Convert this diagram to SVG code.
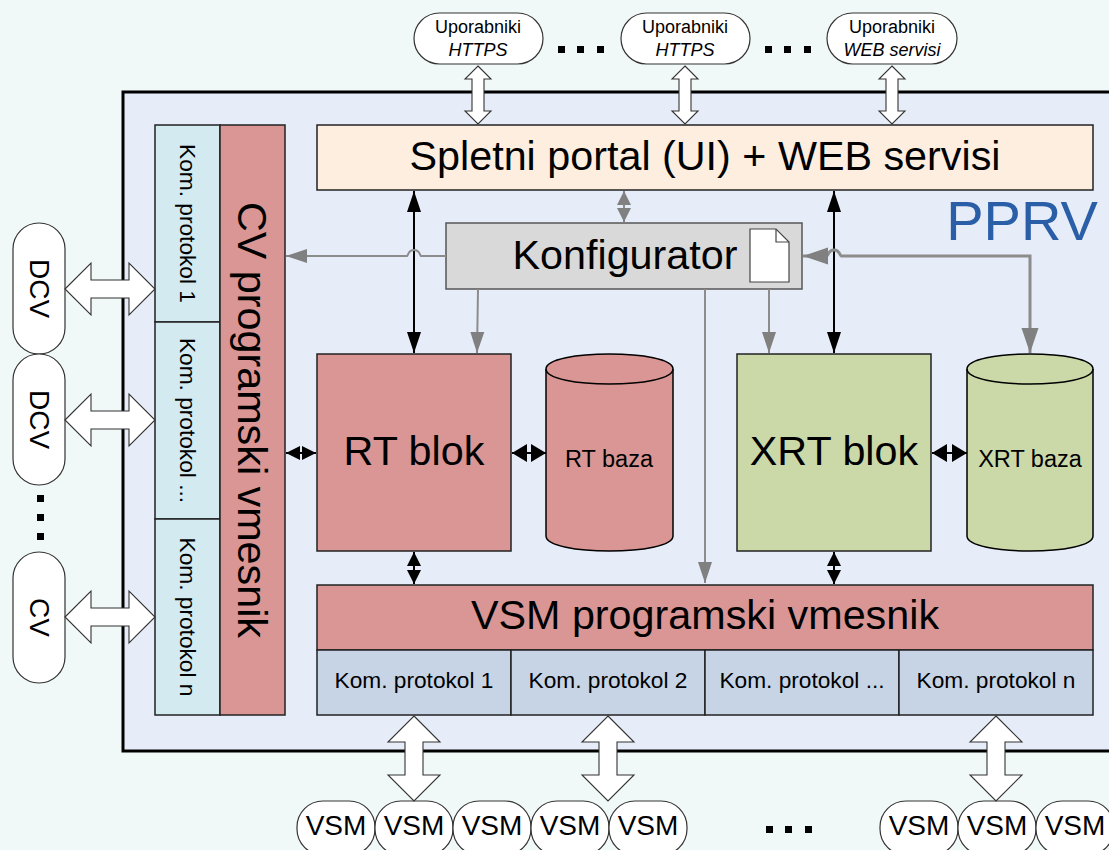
<svg xmlns="http://www.w3.org/2000/svg" width="1109" height="850" viewBox="0 0 1109 850">
<style>
text{font-family:"Liberation Sans",Arial,sans-serif;fill:#000;text-anchor:middle}
.b{stroke:#222;stroke-width:1.5}
.red{fill:#D99694}.grn{fill:#CBD9A8}.blu{fill:#C7D4E5}.cya{fill:#D2EAF0}
.pill{fill:#fff;stroke:#333;stroke-width:1.2}
.blk{fill:#fff;stroke:#333;stroke-width:1.1;stroke-linejoin:miter}
.k{fill:none;stroke:#000;stroke-width:2}
.g{fill:none;stroke:#8c8c8c;stroke-width:2}
.g2{fill:none;stroke:#8c8c8c;stroke-width:3}
.t40{font-size:41.3px}.t20{font-size:22.7px}.t16{font-size:18px}.t28{font-size:28px}.t23{font-size:23.5px}
</style>
<defs>
<marker id="ka" markerUnits="userSpaceOnUse" markerWidth="22" markerHeight="16" refX="21" refY="8" orient="auto-start-reverse"><path d="M0 1L21 8L0 15Z" fill="#000"/></marker>
<marker id="ks" markerUnits="userSpaceOnUse" markerWidth="15" markerHeight="16" refX="14" refY="8" orient="auto-start-reverse"><path d="M0 1L14 8L0 15Z" fill="#000"/></marker>
<marker id="kb" markerUnits="userSpaceOnUse" markerWidth="16" markerHeight="20" refX="15" refY="10" orient="auto-start-reverse"><path d="M0 1L15 10L0 19Z" fill="#000"/></marker>
<marker id="ga" markerUnits="userSpaceOnUse" markerWidth="22" markerHeight="16" refX="21" refY="8" orient="auto-start-reverse"><path d="M0 1L21 8L0 15Z" fill="#808080"/></marker>
<marker id="gs" markerUnits="userSpaceOnUse" markerWidth="15" markerHeight="16" refX="14" refY="8" orient="auto-start-reverse"><path d="M0 1L14 8L0 15Z" fill="#808080"/></marker>
<marker id="gb" markerUnits="userSpaceOnUse" markerWidth="26" markerHeight="18" refX="25" refY="9" orient="auto-start-reverse"><path d="M0 0.500L25 9L0 17.500Z" fill="#808080"/></marker>
<path id="av" class="blk" d="M0 0L13 13H6V45H13L0 58L-13 45H-6V13H-13Z"/>
<path id="ah" class="blk" d="M0 0L26 -26V-9H64V-26L90 0L64 26V9H26V26Z"/>
<path id="ab" class="blk" d="M0 0L26 26H9V59H26L0 85L-26 59H-9V26H-26Z"/>
</defs>
<rect id="background" width="1109" height="850" fill="#F1F9F8"/>
<rect id="PPRV-panel" x="123" y="92" width="990" height="659" fill="#E6EDF8" stroke="#000" stroke-width="3"/>
<text x="1022" y="240" font-size="56" style="fill:#2A5FA8">PPRV</text>

<g id="portal"><rect class="b" x="317" y="125" width="776" height="65" fill="#FDEEE0"/><text class="t40" x="705" y="170">Spletni portal (UI) + WEB servisi</text></g>
<g id="konfigurator"><rect x="446" y="223" width="356" height="66" fill="#D9D9D9" stroke="#555" stroke-width="1.5"/><text class="t40" x="625" y="269">Konfigurator</text>
<path d="M750 229H776L789 242V282H750Z" fill="#fff" stroke="#444" stroke-width="1.2"/><path d="M776 229V242H789" fill="none" stroke="#444" stroke-width="1.2"/></g>
<g id="rt-blok"><rect class="b red" x="317" y="354" width="194" height="197"/><text class="t40" x="414" y="465">RT blok</text></g>
<g id="xrt-blok"><rect class="b grn" x="737" y="354" width="194" height="197"/><text class="t40" x="834" y="465">XRT blok</text></g>
<g id="rt-baza"><path class="red" stroke="#000" stroke-width="1.5" d="M546 369C546 349 673 349 673 369V536C673 556 546 556 546 536Z"/><path d="M546 369C546 389 673 389 673 369" fill="none" stroke="#000" stroke-width="1.5"/><text class="t23" x="609" y="467">RT baza</text></g>
<g id="xrt-baza"><path class="grn" stroke="#000" stroke-width="1.5" d="M967 369C967 349 1093 349 1093 369V536C1093 556 967 556 967 536Z"/><path d="M967 369C967 389 1093 389 1093 369" fill="none" stroke="#000" stroke-width="1.5"/><text class="t23" x="1030" y="467">XRT baza</text></g>
<g id="vsm-vmesnik"><rect class="b red" x="317" y="585" width="776" height="65"/><text class="t40" x="705" y="629">VSM programski vmesnik</text></g>
<g id="vsm-kom-1"><rect class="b blu" x="317" y="650" width="194" height="65"/><text class="t20" x="414" y="688">Kom. protokol 1</text></g>
<g id="vsm-kom-2"><rect class="b blu" x="511" y="650" width="194" height="65"/><text class="t20" x="608" y="688">Kom. protokol 2</text></g>
<g id="vsm-kom-3"><rect class="b blu" x="705" y="650" width="194" height="65"/><text class="t20" x="802" y="688">Kom. protokol ...</text></g>
<g id="vsm-kom-n"><rect class="b blu" x="899" y="650" width="194" height="65"/><text class="t20" x="996" y="688">Kom. protokol n</text></g>
<g id="cv-kom-1"><rect class="b cya" x="155" y="125" width="65" height="197"/><text class="t20" transform="translate(180 223.500) rotate(90)">Kom. protokol 1</text></g>
<g id="cv-kom-2"><rect class="b cya" x="155" y="322" width="65" height="197"/><text class="t20" transform="translate(180 420.500) rotate(90)">Kom. protokol ...</text></g>
<g id="cv-kom-n"><rect class="b cya" x="155" y="519" width="65" height="196"/><text class="t20" transform="translate(180 617) rotate(90)">Kom. protokol n</text></g>
<g id="cv-vmesnik"><rect class="b red" x="220" y="125" width="65" height="590"/><text class="t40" transform="translate(238 420) rotate(90)">CV programski vmesnik</text></g>

<g id="user-1"><rect class="pill" x="414" y="13" width="129" height="51" rx="25.500"/><text class="t16" x="478" y="33">Uporabniki</text><text class="t16" x="478" y="56" font-style="italic">HTTPS</text></g>
<g id="user-2"><rect class="pill" x="621" y="13" width="129" height="51" rx="25.500"/><text class="t16" x="685" y="33">Uporabniki</text><text class="t16" x="685" y="56" font-style="italic">HTTPS</text></g>
<g id="user-3"><rect class="pill" x="827" y="13" width="130" height="51" rx="25.500"/><text class="t16" x="892" y="33">Uporabniki</text><text class="t16" x="892" y="56" font-style="italic">WEB servisi</text></g>
<g id="dcv-1"><rect class="pill" x="13" y="223" width="52" height="131" rx="26"/><text class="t28" transform="translate(30 288.500) rotate(90)">DCV</text></g>
<g id="dcv-2"><rect class="pill" x="13" y="354" width="52" height="131" rx="26"/><text class="t28" transform="translate(30 419.500) rotate(90)">DCV</text></g>
<g id="cv"><rect class="pill" x="13" y="552" width="52" height="131" rx="26"/><text class="t28" transform="translate(30 617.500) rotate(90)">CV</text></g>
<g id="vsm-1"><rect class="pill" x="297" y="801" width="78" height="54" rx="26"/><text class="t28" x="336" y="835">VSM</text></g>
<g id="vsm-2"><rect class="pill" x="375" y="801" width="78" height="54" rx="26"/><text class="t28" x="414" y="835">VSM</text></g>
<g id="vsm-3"><rect class="pill" x="453" y="801" width="78" height="54" rx="26"/><text class="t28" x="492" y="835">VSM</text></g>
<g id="vsm-4"><rect class="pill" x="531" y="801" width="78" height="54" rx="26"/><text class="t28" x="570" y="835">VSM</text></g>
<g id="vsm-5"><rect class="pill" x="609" y="801" width="78" height="54" rx="26"/><text class="t28" x="648" y="835">VSM</text></g>
<g id="vsm-6"><rect class="pill" x="880" y="801" width="78" height="54" rx="26"/><text class="t28" x="919" y="835">VSM</text></g>
<g id="vsm-7"><rect class="pill" x="958" y="801" width="78" height="54" rx="26"/><text class="t28" x="997" y="835">VSM</text></g>
<g id="vsm-8"><rect class="pill" x="1036" y="801" width="78" height="54" rx="26"/><text class="t28" x="1075" y="835">VSM</text></g>

<g id="dots" fill="#000">
<rect x="558" y="46" width="7" height="7"/><rect x="577" y="46" width="7" height="7"/><rect x="597" y="46" width="7" height="7"/>
<rect x="765" y="46" width="7" height="7"/><rect x="784" y="46" width="7" height="7"/><rect x="804" y="46" width="7" height="7"/>
<rect x="37" y="495" width="7" height="7"/><rect x="37" y="514" width="7" height="7"/><rect x="37" y="533" width="7" height="7"/>
<rect x="766" y="826" width="7" height="7"/><rect x="785" y="826" width="7" height="7"/><rect x="805" y="826" width="7" height="7"/>
</g>

<g id="connectors">
<use href="#av" x="478" y="66"/><use href="#av" x="685" y="66"/><use href="#av" x="892" y="66"/>
<use href="#ah" x="65" y="289"/><use href="#ah" x="65" y="420"/><use href="#ah" x="65" y="617"/>
<use href="#ab" x="414" y="716"/><use href="#ab" x="608" y="716"/><use href="#ab" x="996" y="716"/>
<path class="k" d="M414 191V353" marker-start="url(#ka)" marker-end="url(#ka)"/>
<path class="k" d="M834 191V353" marker-start="url(#ka)" marker-end="url(#ka)"/>
<path class="g" d="M446 256H421C420 256 420 250 414 250C408 250 408 256 407 256H286" marker-end="url(#ga)"/>
<path class="g" d="M478 289L477 353" marker-end="url(#ga)"/>
<path class="g" d="M769 289V353" marker-end="url(#ga)"/>
<path class="g" d="M705 289V583" marker-end="url(#ga)"/>
<path class="g" d="M624 191V222" marker-start="url(#gs)" marker-end="url(#gs)"/>
<path class="g2" d="M803 256H827C828 256 828 250 834 250C840 250 840 256 841 256H1030V353" marker-start="url(#gb)" marker-end="url(#gb)"/>
<path class="k" d="M286 453H316" marker-start="url(#ks)" marker-end="url(#ks)"/>
<path class="k" d="M512 453H546" marker-start="url(#kb)" marker-end="url(#kb)"/>
<path class="k" d="M932 453H967" marker-start="url(#kb)" marker-end="url(#kb)"/>
<path class="k" d="M414 552V584" marker-start="url(#ks)" marker-end="url(#ks)"/>
<path class="k" d="M834 552V584" marker-start="url(#ks)" marker-end="url(#ks)"/>
</g>
</svg>
